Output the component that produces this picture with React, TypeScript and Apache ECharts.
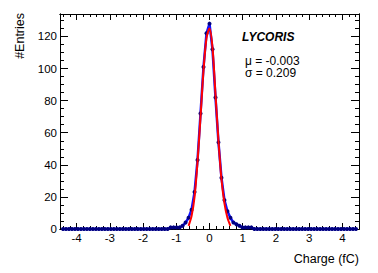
import React, { useEffect, useRef } from "react";
import * as echarts from "echarts";

// Histogram: bins of width 0.09 fC centred on k*0.09, k = -49..49
const binWidth = 0.09;
const firstBinCenter = -4.41;
const counts = [
  0, 0, 0, 0, 0, 0, 0, 0, 0, 0,
  0, 0, 0, 0, 0, 0, 0, 0, 0, 0,
  0, 0, 0, 0, 0, 0, 0, 0, 0, 0,
  0, 0, 0, 0, 0,
  // k = -14 .. 15
  0, 1, 1, 1, 1, 2, 4, 7, 12, 23, 43, 72, 101, 122, 128,
  112, 82, 54, 32, 18, 11, 7, 4, 3, 2, 1, 1, 1, 1, 0,
  // k = 16 .. 49
  0, 0, 0, 0, 0, 0, 0, 0, 0, 0,
  0, 0, 0, 0, 0, 0, 0, 0, 0, 0,
  0, 0, 0, 0, 0, 0, 0, 0, 0, 0,
  0, 0, 0, 0,
];

// Gaussian fit curve
const fitX = [-0.63, -0.54, -0.45, -0.36, -0.27, -0.18, -0.09, 0, 0.09, 0.18, 0.27, 0.36, 0.45, 0.54, 0.63];
const fitY = [2, 8, 20, 42, 70, 99, 119, 125, 113, 84, 55, 31, 16, 7, 2];

const xMajor = [-4, -3, -2, -1, 0, 1, 2, 3, 4];
const yMajor = [0, 20, 40, 60, 80, 100, 120];
const xMinorStep = 0.2;
const yMinorStep = 5;

const X_MIN = -4.5;
const X_MAX = 4.5;
const Y_MIN = 0;
const Y_MAX = 134;

export default function App() {
  const ref = useRef<HTMLDivElement>(null);
  useEffect(() => {
    if (!ref.current) return;
    const chart = echarts.init(ref.current, undefined, { renderer: "svg" });

    const xMinor: number[] = [];
    for (let v = -4.4; v <= 4.41; v += xMinorStep) {
      const r = Math.round(v * 10) / 10;
      if (Math.abs(r - Math.round(r)) > 1e-6) xMinor.push(r);
    }
    const yMinor: number[] = [];
    for (let v = 0; v <= Y_MAX; v += yMinorStep) {
      if (v % 20 !== 0) yMinor.push(v);
    }

    const histData = counts.map((c, i) => [
      Math.round((firstBinCenter + i * binWidth) * 1000) / 1000,
      c,
    ]);
    const fitData = fitX.map((x, i) => [x, fitY[i]]);

    const font = "'Liberation Sans', Arial, Helvetica, sans-serif";
    const axisLine = { show: true, onZero: false, lineStyle: { color: "#000", width: 1 } };

    const xAx = (position: string, values: number[], len: number, labels: boolean) => ({
      type: "value",
      min: X_MIN,
      max: X_MAX,
      position,
      axisLine,
      splitLine: { show: false },
      axisTick: { show: true, inside: true, length: len, customValues: values, lineStyle: { color: "#000", width: 1 } },
      axisLabel: labels
        ? { show: true, customValues: values, margin: 3, fontSize: 11.5, color: "#000", fontFamily: font }
        : { show: false },
    });
    const yAx = (position: string, values: number[], len: number, labels: boolean) => ({
      type: "value",
      min: Y_MIN,
      max: Y_MAX,
      position,
      axisLine,
      splitLine: { show: false },
      axisTick: { show: true, inside: true, length: len, customValues: values, lineStyle: { color: "#000", width: 1 } },
      axisLabel: labels
        ? { show: true, customValues: values, margin: 3, fontSize: 11.5, color: "#000", fontFamily: font }
        : { show: false },
    });

    chart.setOption({
      animation: false,
      backgroundColor: "#fff",
      grid: { left: 60, right: 19, top: 14, bottom: 44, containLabel: false },
      xAxis: [
        xAx("bottom", xMajor, 6, true),
        xAx("bottom", xMinor, 3, false),
        xAx("top", xMajor, 6, false),
        xAx("top", xMinor, 3, false),
      ],
      yAxis: [
        yAx("left", yMajor, 8, true),
        yAx("left", yMinor, 4, false),
        yAx("right", yMajor, 8, false),
        yAx("right", yMinor, 4, false),
      ],
      series: [
        {
          type: "line",
          name: "data",
          data: histData,
          xAxisIndex: 0,
          yAxisIndex: 0,
          showSymbol: true,
          showAllSymbol: true,
          symbol: "circle",
          symbolSize: 4,
          itemStyle: { color: "#000080" },
          lineStyle: { color: "#1010ff", width: 2.5 },
          z: 2,
          clip: false,
        },
        {
          type: "line",
          name: "fit",
          data: fitData,
          xAxisIndex: 0,
          yAxisIndex: 0,
          showSymbol: false,
          smooth: 0.3,
          lineStyle: { color: "#ff0000", width: 2 },
          z: 3,
        },
      ],
      graphic: [
        {
          type: "text",
          x: 20,
          y: 13,
          rotation: Math.PI / 2,
          style: {
            text: "#Entries",
            align: "right",
            verticalAlign: "middle",
            font: `12.5px ${font}`,
            fill: "#000",
          },
        },
        {
          type: "text",
          x: 359,
          y: 259,
          style: {
            text: "Charge (fC)",
            align: "right",
            verticalAlign: "middle",
            font: `12.5px ${font}`,
            fill: "#000",
          },
        },
        {
          type: "text",
          x: 242,
          y: 37,
          style: {
            text: "LYCORIS",
            align: "left",
            verticalAlign: "middle",
            font: `italic bold 12px ${font}`,
            fill: "#000",
          },
        },
        {
          type: "text",
          x: 245,
          y: 60.5,
          style: {
            text: "μ = -0.003",
            align: "left",
            verticalAlign: "middle",
            font: `12px ${font}`,
            fill: "#000",
          },
        },
        {
          type: "text",
          x: 245,
          y: 73,
          style: {
            text: "σ = 0.209",
            align: "left",
            verticalAlign: "middle",
            font: `12px ${font}`,
            fill: "#000",
          },
        },
      ],
    });
    return () => chart.dispose();
  }, []);
  return <div ref={ref} style={{ width: 378, height: 273, position: "absolute", left: 0, top: 0 }} />;
}
